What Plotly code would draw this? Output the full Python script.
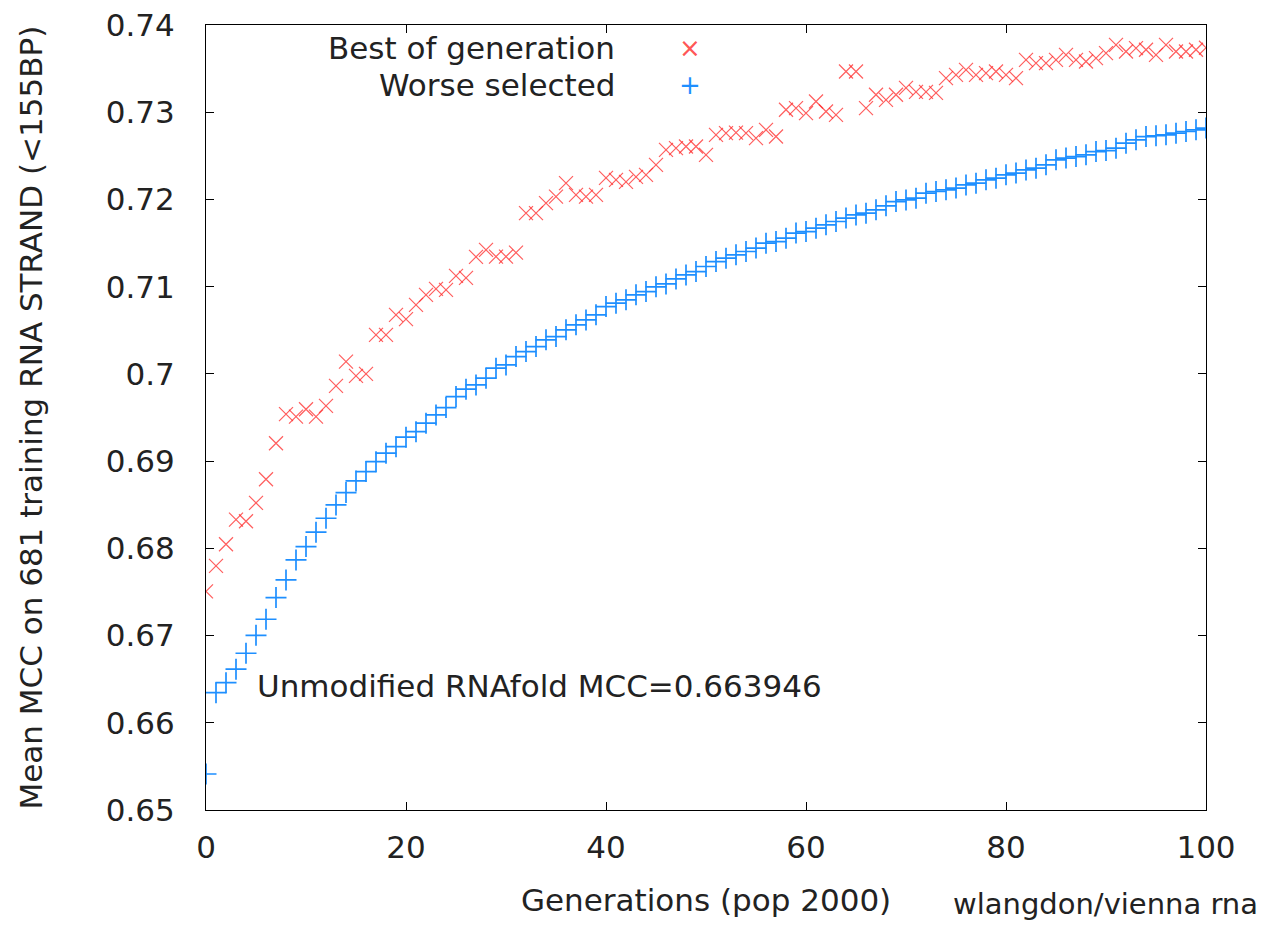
import plotly.graph_objects as go

generations = list(range(0, 101))

best_of_generation = [
    0.67506, 0.67798, 0.68047, 0.68330, 0.68310, 0.68521, 0.68792, 0.69205, 0.69538, 0.69510,
    0.69595, 0.69510, 0.69633, 0.69862, 0.70141, 0.69977, 0.70000, 0.70447, 0.70447, 0.70677,
    0.70627, 0.70791, 0.70906, 0.70975, 0.70963, 0.71124, 0.71101, 0.71342, 0.71422, 0.71345,
    0.71345, 0.71390, 0.71843, 0.71843, 0.71958, 0.72033, 0.72187, 0.72053, 0.72033, 0.72053,
    0.72248, 0.72225, 0.72202, 0.72259, 0.72282, 0.72397, 0.72569, 0.72588, 0.72607, 0.72607,
    0.72511, 0.72741, 0.72760, 0.72767, 0.72760, 0.72703, 0.72798, 0.72722, 0.73028, 0.73047,
    0.72990, 0.73123, 0.73008, 0.72970, 0.73467, 0.73467, 0.73047, 0.73200, 0.73142, 0.73200,
    0.73280, 0.73234, 0.73234, 0.73222, 0.73391, 0.73429, 0.73486, 0.73429, 0.73448, 0.73467,
    0.73429, 0.73391, 0.73601, 0.73563, 0.73563, 0.73601, 0.73658, 0.73601, 0.73582, 0.73620,
    0.73678, 0.73773, 0.73696, 0.73735, 0.73716, 0.73658, 0.73773, 0.73696, 0.73696, 0.73716,
    0.73739,
]

worse_selected = [
    0.65413, 0.66345, 0.66460, 0.66614, 0.66797, 0.67003, 0.67187, 0.67435, 0.67638, 0.67867,
    0.68020, 0.68185, 0.68345, 0.68498, 0.68639, 0.68773, 0.68880, 0.68994, 0.69091, 0.69166,
    0.69274, 0.69338, 0.69435, 0.69530, 0.69614, 0.69740, 0.69825, 0.69874, 0.69951, 0.70065,
    0.70103, 0.70198, 0.70256, 0.70313, 0.70390, 0.70428, 0.70505, 0.70562, 0.70619, 0.70677,
    0.70772, 0.70811, 0.70849, 0.70906, 0.70944, 0.70998, 0.71032, 0.71089, 0.71135, 0.71173,
    0.71231, 0.71288, 0.71327, 0.71365, 0.71403, 0.71442, 0.71499, 0.71517, 0.71556, 0.71614,
    0.71632, 0.71671, 0.71709, 0.71747, 0.71786, 0.71823, 0.71843, 0.71881, 0.71927, 0.71976,
    0.71995, 0.72015, 0.72072, 0.72091, 0.72110, 0.72130, 0.72167, 0.72187, 0.72225, 0.72244,
    0.72282, 0.72302, 0.72339, 0.72359, 0.72397, 0.72454, 0.72474, 0.72492, 0.72511, 0.72549,
    0.72560, 0.72588, 0.72645, 0.72683, 0.72721, 0.72730, 0.72741, 0.72760, 0.72779, 0.72798,
    0.72818,
]

x_ticks = [0, 20, 40, 60, 80, 100]
x_tick_labels = ["0", "20", "40", "60", "80", "100"]
y_ticks = [0.65, 0.66, 0.67, 0.68, 0.69, 0.70, 0.71, 0.72, 0.73, 0.74]
y_tick_labels = ["0.65", "0.66", "0.67", "0.68", "0.69", "0.7", "0.71", "0.72", "0.73", "0.74"]

series_names = ["Best of generation", "Worse selected"]
unmodified_label = "Unmodified RNAfold MCC=0.663946"
x_title = "Generations (pop 2000)"
y_title = "Mean MCC on 681 training RNA STRAND (<155BP)"
credit = "wlangdon/vienna rna"

FONT = "DejaVu Sans, sans-serif"
FS = 31
TXT = "#222222"
RED = "rgba(255,40,40,0.75)"
BLUE = "#1e8fff"

fig = go.Figure()
fig.add_trace(go.Scatter(
    x=generations, y=best_of_generation, mode="markers", name=series_names[0],
    marker=dict(symbol="x-thin", size=14, line=dict(color=RED, width=1.2)),
    showlegend=False,
))
fig.add_trace(go.Scatter(
    x=generations, y=worse_selected, mode="markers", name=series_names[1],
    marker=dict(symbol="cross-thin", size=15, line=dict(color=BLUE, width=1.7)),
    showlegend=False,
))

axis_common = dict(
    showline=True, linecolor="#000000", linewidth=1, mirror="ticks",
    ticks="inside", ticklen=8, tickcolor="#000000", tickwidth=1,
    showgrid=False, zeroline=False, automargin=False,
    ticklabeloverflow="allow",
    tickfont=dict(family=FONT, size=FS, color=TXT),
)

# page body has an 8px margin: size the figure so it fits the 1273x933 window
fig.update_layout(
    width=1257, height=917,
    margin=dict(l=198, r=59, t=17, b=115),
    paper_bgcolor="white", plot_bgcolor="white",
    font=dict(family=FONT, size=FS, color=TXT),
    xaxis=dict(range=[0, 100], tickvals=x_ticks, ticktext=x_tick_labels,
               ticklabelstandoff=10, **axis_common),
    yaxis=dict(range=[0.65, 0.74], tickvals=y_ticks, ticktext=y_tick_labels,
               ticklabelstandoff=24, **axis_common),
)

ann_font = dict(family=FONT, size=FS, color=TXT)
# legend (gnuplot style: text right-aligned, symbol to the right)
fig.add_annotation(xref="paper", yref="paper", x=0.411, y=0.9707, text=series_names[0],
                   xanchor="right", yanchor="middle", showarrow=False, font=ann_font)
fig.add_annotation(xref="paper", yref="paper", x=0.411, y=0.9236, text=series_names[1],
                   xanchor="right", yanchor="middle", showarrow=False, font=ann_font)
fig.add_annotation(xref="paper", yref="paper", x=0.484, y=0.9707, text="×",
                   xanchor="center", yanchor="middle", showarrow=False,
                   font=dict(family="DejaVu Sans", size=26, color="rgba(255,40,40,0.8)"))
fig.add_annotation(xref="paper", yref="paper", x=0.484, y=0.9236, text="+",
                   xanchor="center", yanchor="middle", showarrow=False,
                   font=dict(family="DejaVu Sans", size=26, color=BLUE))

fig.add_annotation(x=4.9, y=0.66422, text=unmodified_label, xanchor="left", yanchor="middle",
                   showarrow=False, font=ann_font)

fig.add_annotation(xref="paper", yref="paper", x=0.5, y=0, yshift=-90, text=x_title,
                   xanchor="center", yanchor="middle", showarrow=False, font=ann_font)
fig.add_annotation(xref="paper", yref="paper", x=0, y=0.5, xshift=-176, text=y_title,
                   textangle=-90, xanchor="center", yanchor="middle", showarrow=False, font=ann_font)
fig.add_annotation(xref="paper", yref="paper", x=1.0, y=0, xshift=54, yshift=-94, text=credit,
                   xanchor="right", yanchor="middle", showarrow=False,
                   font=dict(family=FONT, size=29, color=TXT))

fig.write_html("out.html")
